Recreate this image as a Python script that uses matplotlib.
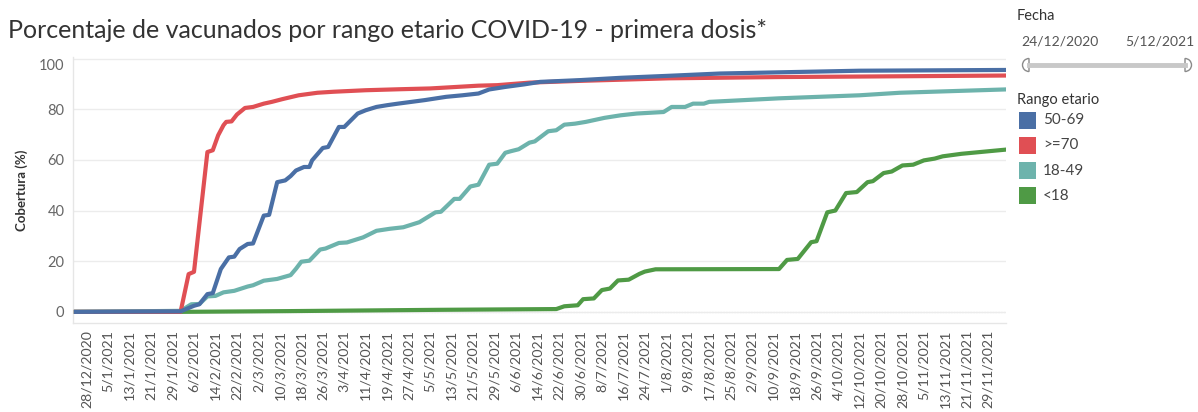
import pandas as pd
import matplotlib
matplotlib.use("Agg")
import matplotlib.pyplot as plt
from matplotlib.patches import Rectangle, Wedge
from matplotlib.transforms import IdentityTransform
from matplotlib.lines import Line2D

plt.rcParams['font.family'] = ['Lato', 'DejaVu Sans']

# data: x = days since 24/12/2020, y = % vacunados
start = pd.Timestamp("2020-12-24")
end = pd.Timestamp("2021-12-05")

days_5069 = [0, 39, 44, 46, 49, 51, 54, 57, 59, 61, 64, 66, 70, 72, 75, 78, 80, 82, 85, 87, 88,
             92, 94, 98, 100, 105, 108, 112, 116, 120, 125, 130, 138, 144, 150, 154, 160, 167,
             173, 188, 203, 221, 240, 292, 346]
vals_5069 = [0, 0.2, 2.4, 3, 7, 7.4, 16.9, 21.5, 21.8, 24.8, 26.8, 27, 38, 38.3, 51.2, 51.9, 53.6,
             55.8, 57.2, 57.2, 59.8, 64.7, 65.1, 73, 73, 78.3, 79.6, 80.9, 81.6, 82.2, 82.9, 83.6,
             84.9, 85.5, 86.2, 87.8, 88.8, 89.8, 90.8, 91.5, 92.4, 93.2, 94.1, 95.2, 95.5]

days_70 = [0, 39, 42, 44, 49, 51, 53, 55, 56, 58, 60, 63, 66, 70, 73, 77, 83, 90, 96, 108, 121,
           132, 150, 157, 169, 188, 221, 262, 292, 346]
vals_70 = [0, 0, 14.9, 15.8, 63.1, 63.8, 69.7, 73.7, 75, 75.2, 77.9, 80.5, 80.9, 82.2, 82.9, 84,
           85.5, 86.5, 86.9, 87.5, 87.9, 88.2, 89.3, 89.5, 90.5, 91.2, 92.2, 92.7, 92.9, 93.3]

days_1849 = [0, 39, 43, 46, 49, 52, 55, 59, 64, 66, 70, 75, 80, 82, 84, 87, 91, 93, 98, 101, 107,
             112, 117, 122, 128, 134, 136, 141, 143, 147, 150, 154, 157, 160, 162, 165, 169, 171,
             176, 179, 182, 186, 190, 197, 203, 209, 219, 222, 227, 230, 234, 236, 262, 292, 307,
             346]
vals_1849 = [0, 0.4, 3, 3.1, 6.1, 6.3, 7.7, 8.3, 10, 10.5, 12.3, 13, 14.5, 17, 19.8, 20.2, 24.6,
             25, 27.2, 27.4, 29.4, 32, 32.8, 33.4, 35.4, 39.3, 39.5, 44.6, 44.6, 49.5, 50.2, 58.1,
             58.5, 62.8, 63.4, 64.2, 66.8, 67.3, 71.3, 71.7, 73.9, 74.3, 75, 76.6, 77.6, 78.3,
             78.9, 80.9, 80.9, 82.2, 82.2, 82.9, 84.3, 85.5, 86.5, 87.8]

days_18 = [0, 39, 80, 135, 179, 182, 187, 189, 193, 196, 199, 202, 206, 210, 212, 216, 262, 265,
           269, 274, 276, 280, 283, 287, 291, 295, 297, 301, 304, 308, 312, 316, 320, 323, 330,
           337, 346]
vals_18 = [0, 0, 0.3, 0.8, 1.1, 2.2, 2.6, 5, 5.3, 8.6, 9.2, 12.4, 12.7, 15, 15.9, 16.8, 16.9,
           20.5, 20.9, 27.5, 27.9, 39.3, 40, 46.9, 47.3, 51.2, 51.6, 54.8, 55.4, 57.8, 58.1, 59.8,
           60.5, 61.4, 62.4, 63.1, 64]

groups = ["50-69", ">=70", "18-49", "<18"]
colors = ["#4a6fa5", "#e04f54", "#6db3ac", "#4f9a45"]
series = [(days_5069, vals_5069), (days_70, vals_70), (days_1849, vals_1849), (days_18, vals_18)]

title = "Porcentaje de vacunados por rango etario COVID-19 - primera dosis*"

W, H = 1198, 412
fig = plt.figure(figsize=(W / 100, H / 100), dpi=100)
ax = fig.add_axes([72.7 / W, 1 - 323 / H, (1006 - 72.7) / W, (323 - 57.3) / H])

def to_dates(days):
    return start + pd.to_timedelta(days, unit="D")

# draw bottom-most first so 50-69 ends on top
for i in [3, 2, 1, 0]:
    d, v = series[i]
    ax.plot(to_dates(d), v, color=colors[i], lw=3.0, solid_joinstyle="round", zorder=3 + (3 - i))

ax.set_ylim(-4.4, 100.5)
ax.set_xlim(start - pd.Timedelta(days=1.2), end + pd.Timedelta(days=0.6))

ax.set_yticks([0, 20, 40, 60, 80, 100])
ax.grid(axis="y", color="#ececec", lw=1, zorder=0)
ax.axhline(0, color="#bdbdbd", lw=0.8, ls=(0, (1, 1.5)), zorder=1)
for s in ["top", "right"]:
    ax.spines[s].set_visible(False)
for s in ["left", "bottom"]:
    ax.spines[s].set_color("#e6e6e6")
    ax.spines[s].set_linewidth(1)

ticks = pd.date_range("2020-12-28", "2021-11-29", freq="8D")
ax.set_xticks(ticks)
ax.set_xticklabels([f"{t.day}/{t.month}/{t.year}" for t in ticks], rotation=90,
                   ha="center", va="top")
ax.tick_params(axis="x", length=0, pad=5, labelsize=10.2, labelcolor="#555555")
ax.tick_params(axis="y", length=0, pad=6, labelsize=10.5, labelcolor="#666666")
ylabs = ax.get_yticklabels()
ylabs[-1].set_va("top")

ax.set_ylabel("Cobertura (%)", fontsize=9.5, fontweight="bold", color="#333333")
ax.yaxis.set_label_coords(-0.048, 0.5)

fig.text(8 / W, 1 - 30 / H, title, fontsize=18, color="#333333", va="center", ha="left")

# right side: date filter and colour legend
fig.text(1017 / W, 1 - 16 / H, "Fecha", fontsize=10.5, color="#333333", va="center")
fig.text(1021 / W, 1 - 42 / H, "24/12/2020", fontsize=10, color="#555555", va="center")
fig.text(1194 / W, 1 - 42 / H, "5/12/2021", fontsize=10, color="#555555", va="center", ha="right")

ident = IdentityTransform()
ys = H - 65
fig.add_artist(Line2D([1029, 1185], [ys, ys], color="#c8c8c8", lw=3.5, transform=ident))
fig.add_artist(Wedge((1029, ys), 6.5, 90, 270, facecolor="white", edgecolor="#8a8a8a", lw=1,
                     transform=ident))
fig.add_artist(Wedge((1185, ys), 6.5, -90, 90, facecolor="white", edgecolor="#8a8a8a", lw=1,
                     transform=ident))

fig.text(1017 / W, 1 - 100 / H, "Rango etario", fontsize=10.5, color="#333333", va="center")
for i, g in enumerate(groups):
    yc = 120 + i * 25.3
    fig.add_artist(Rectangle((1019, H - yc - 8.5), 17, 17, facecolor=colors[i], edgecolor="none",
                             transform=ident))
    fig.text(1043 / W, 1 - yc / H, g, fontsize=11, color="#444444", va="center")

fig.savefig("out.png", dpi=100)
